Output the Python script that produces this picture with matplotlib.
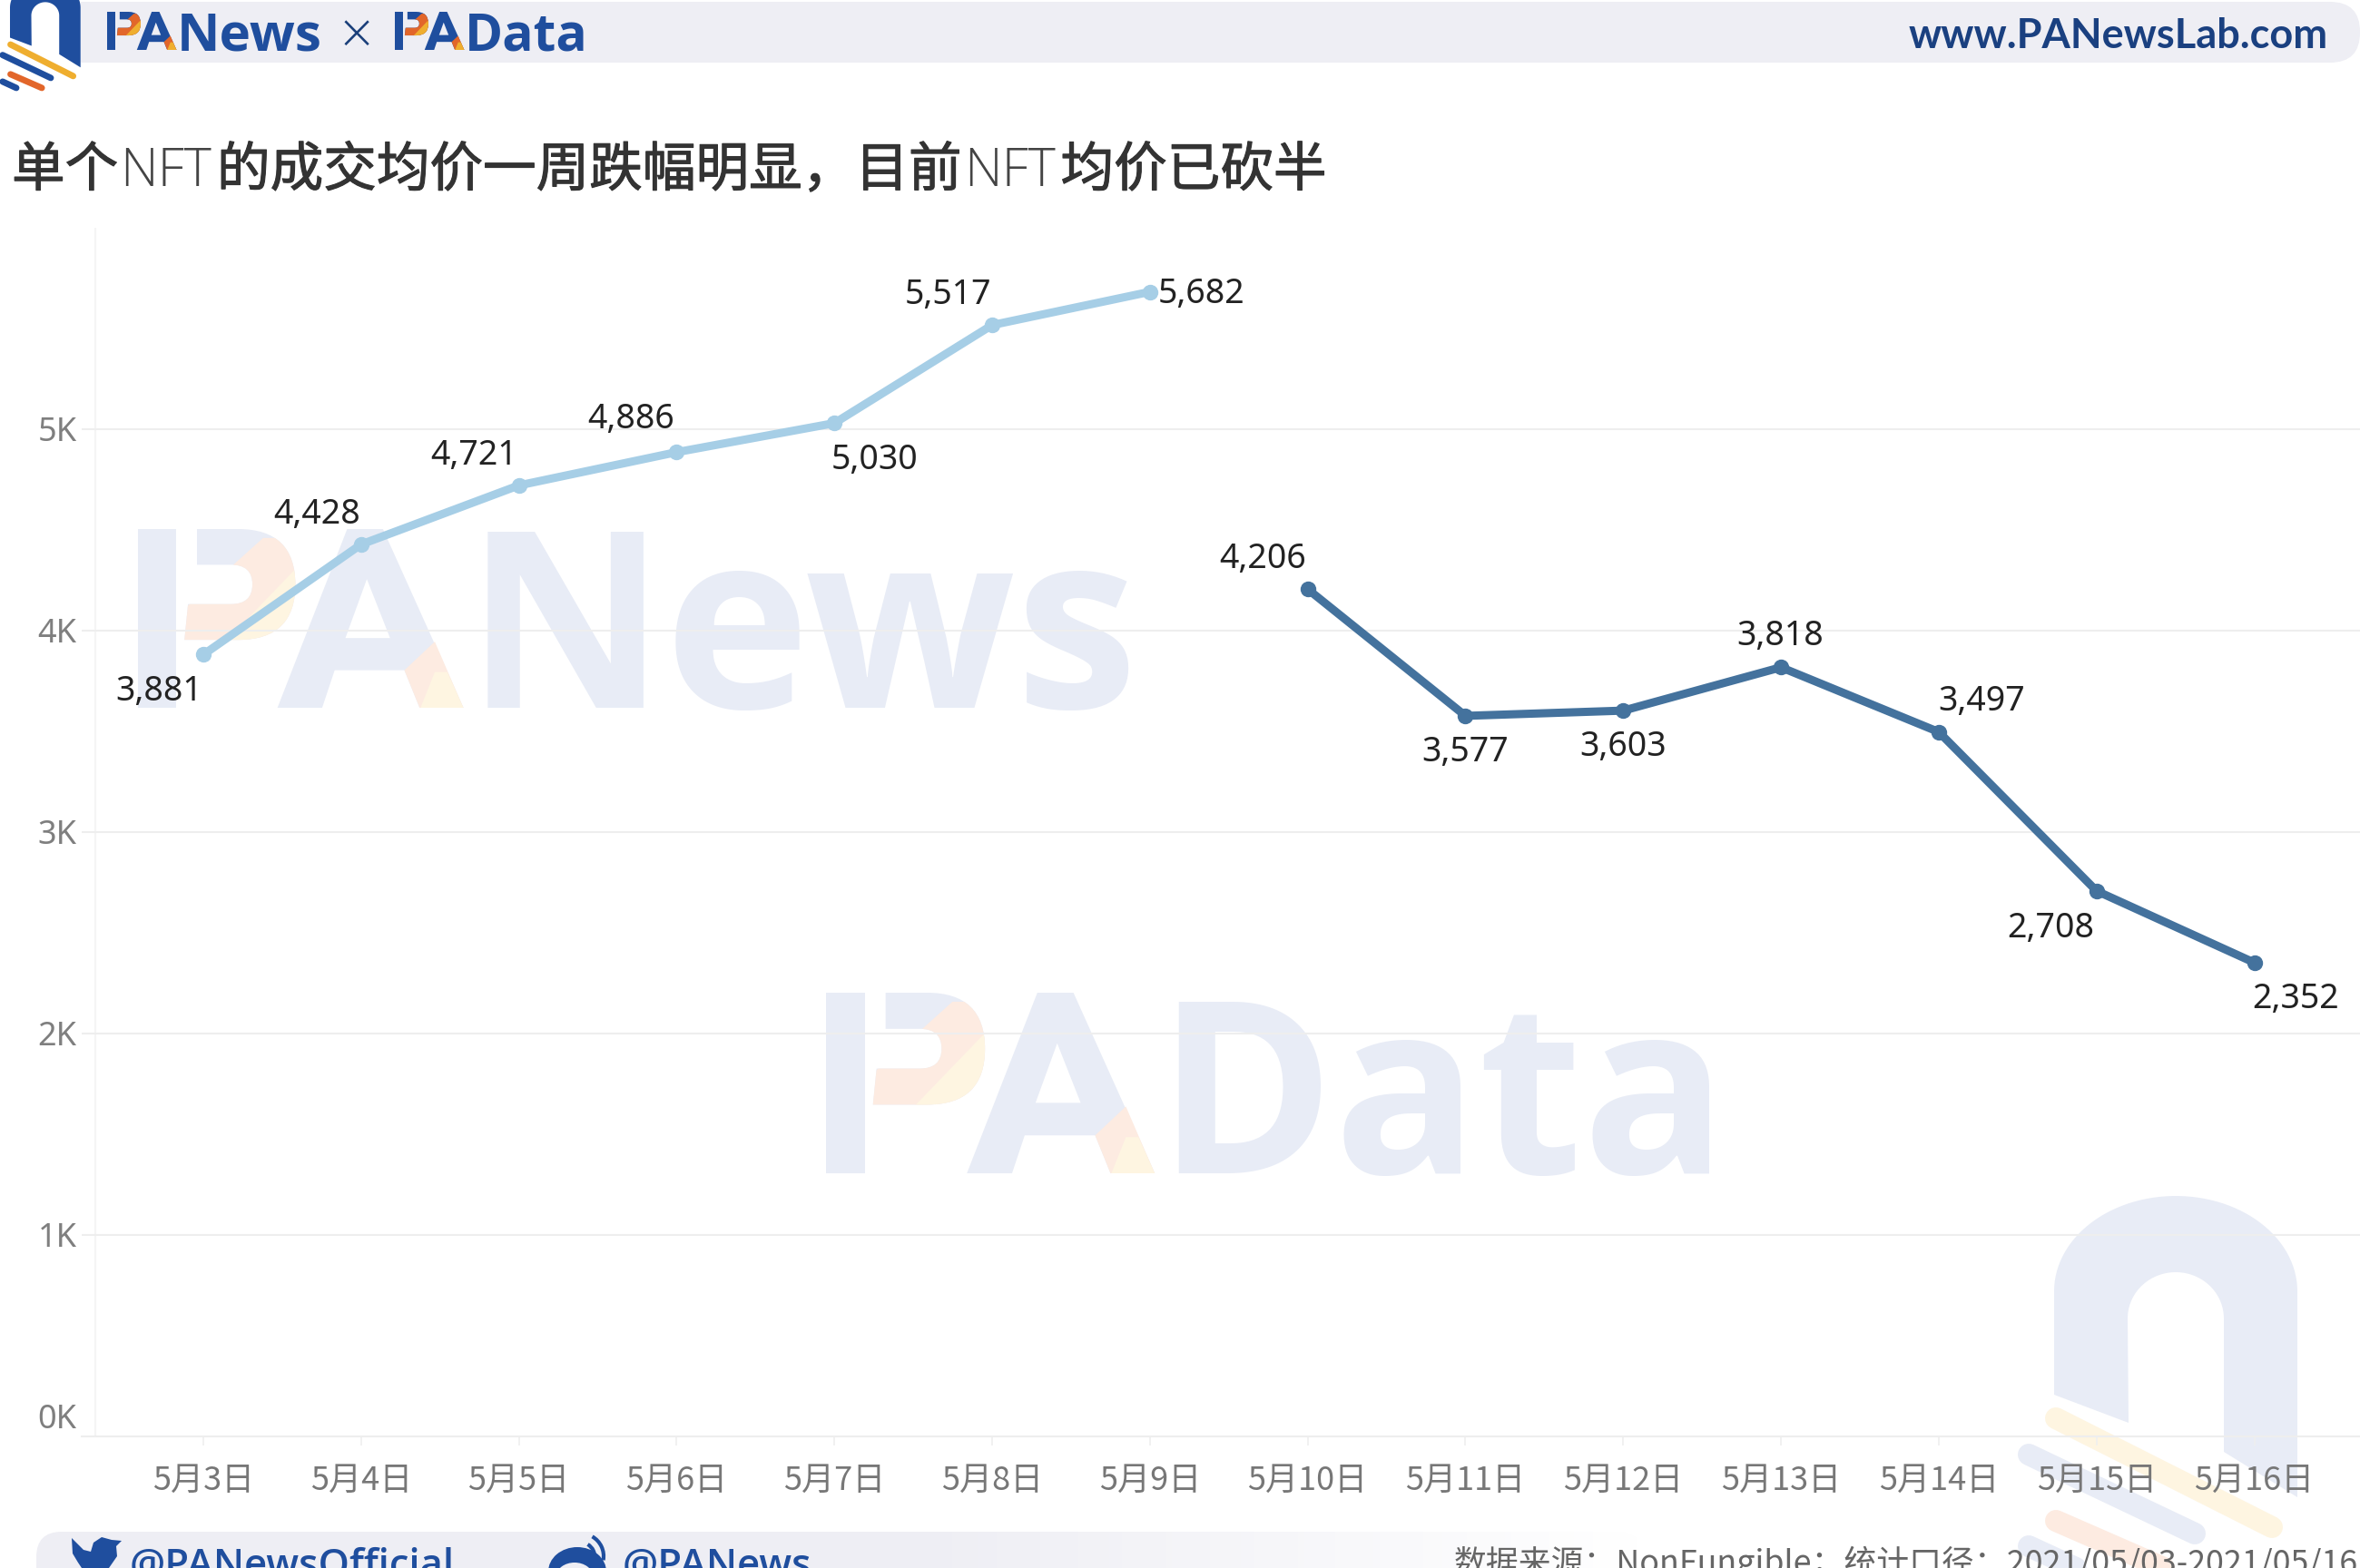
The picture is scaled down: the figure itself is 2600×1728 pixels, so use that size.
# plot.py: NFT average sale price chart, PANews x PAData style
import numpy as np
import matplotlib
matplotlib.use('Agg')
import matplotlib.pyplot as plt
import matplotlib.patheffects as pe
from matplotlib.patches import Circle, Ellipse, FancyBboxPatch, PathPatch, Polygon, Rectangle, Arc
from matplotlib.path import Path

# Chart data
days = ['5月3日', '5月4日', '5月5日', '5月6日', '5月7日', '5月8日', '5月9日',
        '5月10日', '5月11日', '5月12日', '5月13日', '5月14日', '5月15日', '5月16日']
week1_values = [3881, 4428, 4721, 4886, 5030, 5517, 5682]
week2_values = [4206, 3577, 3603, 3818, 3497, 2708, 2352]
y_ticks = [0, 1000, 2000, 3000, 4000, 5000]
y_tick_labels = ['0K', '1K', '2K', '3K', '4K', '5K']
title_runs = ['单个', 'NFT', '的成交均价一周跌幅明显，目前', 'NFT', '均价已砍半']
source_text = '数据来源：NonFungible；统计口径：2021/05/03-2021/05/16'

# Label offsets in points, one per point
week1_offsets = [(-35, -29), (-35, 24), (-36, 24), (-36, 26), (32, -29), (-35, 24), (41, -2)]
week2_offsets = [(-36, 24), (0, -29), (0, -29), (-1, 25), (34, 24), (-36, -30), (33, -29)]

CJK = ['Noto Sans CJK SC', 'DejaVu Sans']
BRAND = '#1f4e9e'
PALE_BLUE = '#e8ecf6'
PALE_ORANGE = '#fdebe1'
PALE_YELLOW = '#fef5e1'
LIGHT_LINE = '#a6cee6'
DARK_LINE = '#44729d'

fig = plt.figure(figsize=(26, 17.28), dpi=100, facecolor='white')

# Overlay in pixel coordinates for the header, footer and watermarks
bg = fig.add_axes([0, 0, 1, 1], zorder=0)
bg.set_xlim(0, 2600)
bg.set_ylim(1728, 0)
bg.axis('off')


def draw_pa(x, baseline, h, blue, orange, yellow, word, font_size):
    # the I + P + A wordmark, then the rest of the word as text
    def pt(u, v):
        return (x + u * h, baseline - v * h)
    bg.add_patch(Polygon([pt(0, 0), pt(.215, 0), pt(.215, 1), pt(0, 1)], fc=blue, ec='none'))
    verts = [pt(.33, 1), pt(.56, 1), pt(.88, 1), pt(.88, .69), pt(.88, .38), pt(.56, .38),
             pt(.26, .38), pt(.28, .58), pt(.52, .58), pt(.64, .58), pt(.64, .69), pt(.64, .80),
             pt(.52, .80), pt(.33, .80), pt(.33, 1)]
    codes = [Path.MOVETO, Path.LINETO, Path.CURVE3, Path.CURVE3, Path.CURVE3, Path.CURVE3,
             Path.LINETO, Path.LINETO, Path.LINETO, Path.CURVE3, Path.CURVE3, Path.CURVE3,
             Path.CURVE3, Path.LINETO, Path.CLOSEPOLY]
    bg.add_patch(PathPatch(Path(verts, codes), fc=blue, ec='none'))
    # diagonal colour bands through the bowl of the P
    for pts, col in [([pt(.2, .3), pt(.95, .3), pt(.95, .95), pt(.7, .95), pt(.2, .5)], orange),
                     ([pt(.42, .3), pt(.95, .3), pt(.95, .85)], yellow)]:
        band = Polygon(pts, fc=col, ec='none')
        bg.add_patch(band)
        band.set_clip_path(Path(verts, codes), bg.transData)
    # the A with its counter
    outer = [pt(.78, 0), pt(1.17, 1), pt(1.37, 1), pt(1.82, 0), pt(1.575, 0), pt(1.49, .21),
             pt(1.10, .21), pt(1.03, 0), pt(.78, 0)]
    inner = [pt(1.16, .39), pt(1.41, .39), pt(1.28, .72), pt(1.16, .39)]
    a_path = Path(outer + inner, [Path.MOVETO] + [Path.LINETO] * 7 + [Path.CLOSEPOLY]
                  + [Path.MOVETO, Path.LINETO, Path.LINETO, Path.CLOSEPOLY])
    bg.add_patch(PathPatch(a_path, fc=blue, ec='none'))
    bg.add_patch(Polygon([pt(1.49, .21), pt(1.575, 0), pt(1.82, 0), pt(1.66, .37)], fc=orange, ec='none'))
    bg.add_patch(Polygon([pt(1.58, 0), pt(1.82, 0), pt(1.73, .2), pt(1.66, .2)], fc=yellow, ec='none'))
    bg.text(x + 1.83 * h, baseline, word, family='Open Sans', weight='bold', color=blue,
            fontsize=font_size, va='baseline', ha='left')


def draw_logo(x, y, s, blue, yellow, orange):
    # arch with the four stripes, s is the scale against the big watermark
    theta = np.linspace(np.pi, 0, 60)
    w = 268
    outer = [(w / 2 + w / 2 * np.cos(t), 105 - 105 * np.sin(t)) for t in theta]
    outer = [(0, 219)] + outer + [(268, 332), (187, 282)]
    inner = [(134 + 53 * np.cos(t), 135 - 51 * np.sin(t)) for t in theta[::-1]]
    inner = inner + [(82, 250)]
    pts = [(x + a * s, y + b * s) for a, b in outer + inner]
    bg.add_patch(Polygon(pts, fc=blue, ec='none'))
    stripes = [((2, 245), (240, 365), yellow), ((-28, 285), (155, 372), blue),
               ((2, 358), (121, 410), orange), ((-28, 386), (24, 410), blue)]
    for (a0, b0), (a1, b1), col in stripes:
        bg.plot([x + a0 * s, x + a1 * s], [y + b0 * s, y + b1 * s], color=col,
                lw=24 * s * 0.72, solid_capstyle='round')


# Watermarks
draw_pa(152, 780, 197, PALE_BLUE, PALE_ORANGE, PALE_YELLOW, 'News', 195)
draw_pa(910, 1293, 199, PALE_BLUE, PALE_ORANGE, PALE_YELLOW, 'Data', 190)
draw_logo(2263, 1318, 1.0, PALE_BLUE, PALE_YELLOW, PALE_ORANGE)

# Header band
bg.add_patch(Rectangle((89, 2), 2400, 67, fc='#eeeef4', ec='none'))
bg.add_patch(FancyBboxPatch((2440, 2), 160, 67, boxstyle='round,pad=0,rounding_size=33',
                            fc='#eeeef4', ec='none'))
draw_logo(11, -22, 0.29, BRAND, '#efae2f', '#e2662a')
draw_pa(118, 55, 42, BRAND, '#e2662a', '#efae2f', 'News', 42)
draw_pa(435, 55, 42, BRAND, '#e2662a', '#efae2f', 'Data', 41)
bg.text(393, 38, '×', family='DejaVu Sans', fontsize=38, color='#1a3f7a', ha='center', va='center',
        weight='ultralight')
bg.text(2103, 53, 'www.PANewsLab.com', family='Lato', weight='bold', fontsize=32.5, color='#1a4080',
        ha='left', va='baseline')

# Title, the latin runs are lighter than the Chinese ones
renderer = fig.canvas.get_renderer()
title_x = 13
for run in title_runs:
    if run == 'NFT':
        t = bg.text(title_x, 205, run, family='Open Sans', weight='light', fontsize=41.5, color='#444444',
                    ha='left', va='baseline')
        gap = 6
    else:
        t = bg.text(title_x, 205, run, family=CJK, fontsize=42.2, color='#333333',
                    ha='left', va='baseline',
                    path_effects=[pe.withStroke(linewidth=0.8, foreground='#333333')])
        gap = 2
    box = t.get_window_extent(renderer)
    title_x = title_x + box.width + gap

# Footer band fading out to the right
fade = np.ones((1, 256, 4))
fade[..., :3] = matplotlib.colors.to_rgb('#eeeef4')
fade[..., 3] = np.clip((1 - np.linspace(0, 1, 256)) * 2.2, 0, 1)
im = bg.imshow(fade, extent=(40, 1810, 1728, 1688), aspect='auto', zorder=1)
clip_box = FancyBboxPatch((40, 1688), 1770, 100, boxstyle='round,pad=0,rounding_size=28',
                          transform=bg.transData, fc='none', ec='none')
bg.add_patch(clip_box)
im.set_clip_path(clip_box)
bg.set_xlim(0, 2600)
bg.set_ylim(1728, 0)

# Footer icons and text
bird = [(79, 1695), (92, 1708), (100, 1710), (103, 1700), (112, 1694), (123, 1697), (134, 1698),
        (128, 1704), (129, 1715), (120, 1728), (90, 1728), (86, 1722), (80, 1712)]
bg.add_patch(Polygon(bird, fc=BRAND, ec='none', zorder=2))
bg.add_patch(Ellipse((636, 1732), 64, 54, fc=BRAND, ec='none', zorder=2))
bg.add_patch(Ellipse((633, 1737), 40, 30, fc='#eeeef4', ec='none', zorder=2))
bg.add_patch(Circle((631, 1738), 9, fc=BRAND, ec='none', zorder=2))
bg.add_patch(Arc((640, 1715), 50, 50, theta1=-60, theta2=10, color=BRAND, lw=3, zorder=2))
bg.add_patch(Arc((640, 1715), 30, 30, theta1=-60, theta2=10, color=BRAND, lw=3, zorder=2))
bg.text(143, 1738, '@PANewsOfficial', family='Open Sans', weight='semibold', fontsize=31.5, color=BRAND,
        va='baseline', ha='left', zorder=2)
bg.text(686, 1738, '@PANews', family='Open Sans', weight='semibold', fontsize=31.5, color=BRAND,
        va='baseline', ha='left', zorder=2)
bg.text(1602, 1734, source_text, family=CJK, fontsize=25.8, color='#666666', va='baseline', ha='left', zorder=2)

# Chart axes sit on top of the watermarks
ax = fig.add_axes([90 / 2600, 1 - 1583 / 1728, 2510 / 2600, (1583 - 251) / 1728], zorder=1)
ax.patch.set_alpha(0)
x1 = np.arange(len(week1_values))
x2 = np.arange(len(week2_values)) + len(week1_values)
ax.plot(x1, week1_values, color=LIGHT_LINE, lw=6.5, marker='o', ms=11.5, solid_capstyle='round', zorder=3)
ax.plot(x2, week2_values, color=DARK_LINE, lw=6.5, marker='o', ms=11.5, solid_capstyle='round', zorder=3)

for xs, values, offsets in [(x1, week1_values, week1_offsets), (x2, week2_values, week2_offsets)]:
    for xv, val, off in zip(xs, values, offsets):
        ax.annotate(f'{val:,}', (xv, val), xytext=off, textcoords='offset points', ha='center', va='center',
                    family='Noto Sans', fontsize=27, color='#222222', zorder=4)

ax.set_xlim(-0.771, 13.67)
ax.set_ylim(0, 6000)
ax.set_xticks(np.arange(len(days)))
ax.set_xticklabels(days, family=CJK, fontsize=26, color='#777777')
ax.set_yticks(y_ticks)
ax.set_yticklabels(y_tick_labels, family='Noto Sans', fontsize=26, color='#7f7f7f')
ax.tick_params(axis='x', length=7, width=1.2, color='#efefef', pad=15)
ax.tick_params(axis='y', length=0, pad=4)
ax.get_yticklabels()[0].set_verticalalignment('bottom')
ax.grid(axis='y', color='#eeeeee', lw=1.5)
ax.set_axisbelow(True)
ax.axvline(-0.685, color='#f5f5f5', lw=1.5, zorder=0)
for name in ['top', 'right', 'left']:
    ax.spines[name].set_visible(False)
ax.spines['bottom'].set_color('#eeeeee')
ax.spines['bottom'].set_linewidth(1.5)

fig.savefig('out.png', dpi=100)
plt.close(fig)
